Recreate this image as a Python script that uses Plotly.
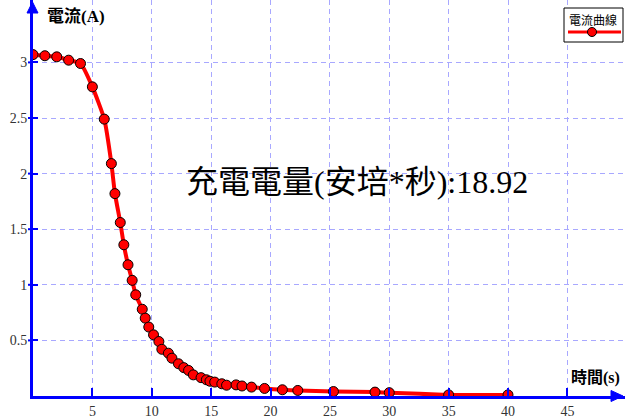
import plotly.graph_objects as go

# Measured discharge current (A) against time (s)
time_s = [0, 1, 2, 3, 4, 5, 6, 6.6, 6.9, 7.35, 7.65, 8.0, 8.35, 8.65, 9.2, 9.45,
          9.75, 10.15, 10.6, 10.85, 11.4, 11.7, 12.25, 12.7, 13.1, 13.5, 14.15,
          14.6, 14.9, 15.3, 15.9, 16.3, 17.1, 17.6, 18.4, 19.5, 21.0, 22.3,
          25.3, 28.8, 30.0, 35, 40]
current_a = [3.07, 3.06, 3.05, 3.02, 2.99, 2.78, 2.49, 2.09, 1.82, 1.56, 1.36,
             1.18, 1.04, 0.91, 0.78, 0.70, 0.62, 0.55, 0.49, 0.42, 0.385, 0.34,
             0.29, 0.255, 0.23, 0.19, 0.165, 0.146, 0.133, 0.125, 0.11, 0.097,
             0.10, 0.09, 0.08, 0.068, 0.056, 0.05, 0.04, 0.035, 0.03, 0.01, 0.01]

x_ticks = [5, 10, 15, 20, 25, 30, 35, 40, 45]
y_ticks = [0.5, 1, 1.5, 2, 2.5, 3]
y_tick_text = ["0.5", "1", "1.5", "2", "2.5", "3"]

series_name = "電流曲線"
y_title = "電流(A)"
x_title = "時間(s)"
charge_label = "充電電量(安培*秒):18.92"

W, H = 625, 419
L, B = 33, 23
PW, PH = W - L, H - B


def px(x):
    return (x - L) / PW


def py(y):
    return (PH - y) / PH


AXIS_BLUE = "#0000ff"
GRID_BLUE = "#a8a8ff"
TICK_FONT = dict(family="Liberation Serif, Times New Roman, serif", size=14, color="#333333")
CJK = "Liberation Serif, Noto Sans CJK TC, serif"

fig = go.Figure()
fig.add_trace(go.Scatter(
    x=time_s, y=current_a, mode="lines+markers", name=series_name,
    line=dict(color="#ff0000", width=4, shape="spline", smoothing=0.5),
    marker=dict(symbol="circle", size=10, color="#ff0000",
                line=dict(color="#000000", width=1)),
    showlegend=False,
))

shapes = [
    # axis arrowheads
    dict(type="path", xref="paper", yref="paper",
         path=f"M {px(623)},{py(396)} L {px(611)},{py(390.5)} L {px(611)},{py(401.5)} Z",
         fillcolor=AXIS_BLUE, line=dict(color=AXIS_BLUE, width=1)),
    dict(type="path", xref="paper", yref="paper",
         path=f"M {px(32.5)},{py(2)} L {px(27)},{py(13)} L {px(38)},{py(13)} Z",
         fillcolor=AXIS_BLUE, line=dict(color=AXIS_BLUE, width=1)),
    # outer half of the y-axis tick crosses
    *[dict(type="line", xref="paper", yref="y",
           x0=px(28), x1=px(33), y0=v, y1=v,
           line=dict(color=AXIS_BLUE, width=2)) for v in y_ticks],
    # legend box
    dict(type="rect", xref="paper", yref="paper",
         x0=px(564), x1=px(623), y0=py(42), y1=py(8),
         fillcolor="#ffffff", line=dict(color="#000000", width=1)),
    dict(type="line", xref="paper", yref="paper",
         x0=px(568), x1=px(621), y0=py(32), y1=py(32),
         line=dict(color="#ff0000", width=3)),
    dict(type="circle", xref="paper", yref="paper",
         x0=px(587.5), x1=px(596.5), y0=py(36.5), y1=py(27.5),
         fillcolor="#ff0000", line=dict(color="#000000", width=1)),
]

annotations = [
    dict(text=f"<b>{y_title}</b>", xref="paper", yref="paper",
         x=px(45), y=py(16), xanchor="left", yanchor="middle", showarrow=False,
         font=dict(family=CJK, size=17, color="#000000")),
    dict(text=f"<b>{x_title}</b>", xref="paper", yref="paper",
         x=px(622), y=py(378), xanchor="right", yanchor="middle", showarrow=False,
         font=dict(family=CJK, size=16, color="#000000")),
    dict(text=charge_label, xref="paper", yref="paper",
         x=px(184), y=py(182), xanchor="left", yanchor="middle", showarrow=False,
         font=dict(family=CJK, size=32, color="#000000")),
    dict(text=series_name, xref="paper", yref="paper",
         x=px(593), y=py(19), xanchor="center", yanchor="middle", showarrow=False,
         font=dict(family="Noto Sans CJK TC", size=12, color="#000000")),
]

fig.update_layout(
    width=W, height=H,
    margin=dict(l=L, r=0, t=0, b=B, pad=0),
    paper_bgcolor="#ffffff", plot_bgcolor="#ffffff",
    shapes=shapes, annotations=annotations,
    xaxis=dict(
        range=[0, PW / 11.875], tickvals=x_ticks,
        showline=True, linecolor=AXIS_BLUE, linewidth=3,
        ticks="inside", ticklen=8, tickwidth=2, tickcolor=AXIS_BLUE,
        showgrid=True, gridcolor=GRID_BLUE, gridwidth=1, griddash="5px,4px",
        zeroline=False, tickfont=TICK_FONT, fixedrange=True,
    ),
    yaxis=dict(
        range=[0, PH / 111.2], tickvals=y_ticks, ticktext=y_tick_text,
        showline=True, linecolor=AXIS_BLUE, linewidth=3,
        ticks="inside", ticklen=5, tickwidth=2, tickcolor=AXIS_BLUE,
        showgrid=True, gridcolor=GRID_BLUE, gridwidth=1, griddash="5px,4px",
        zeroline=False, tickfont=TICK_FONT, fixedrange=True,
    ),
)

fig.write_html("out.html")
